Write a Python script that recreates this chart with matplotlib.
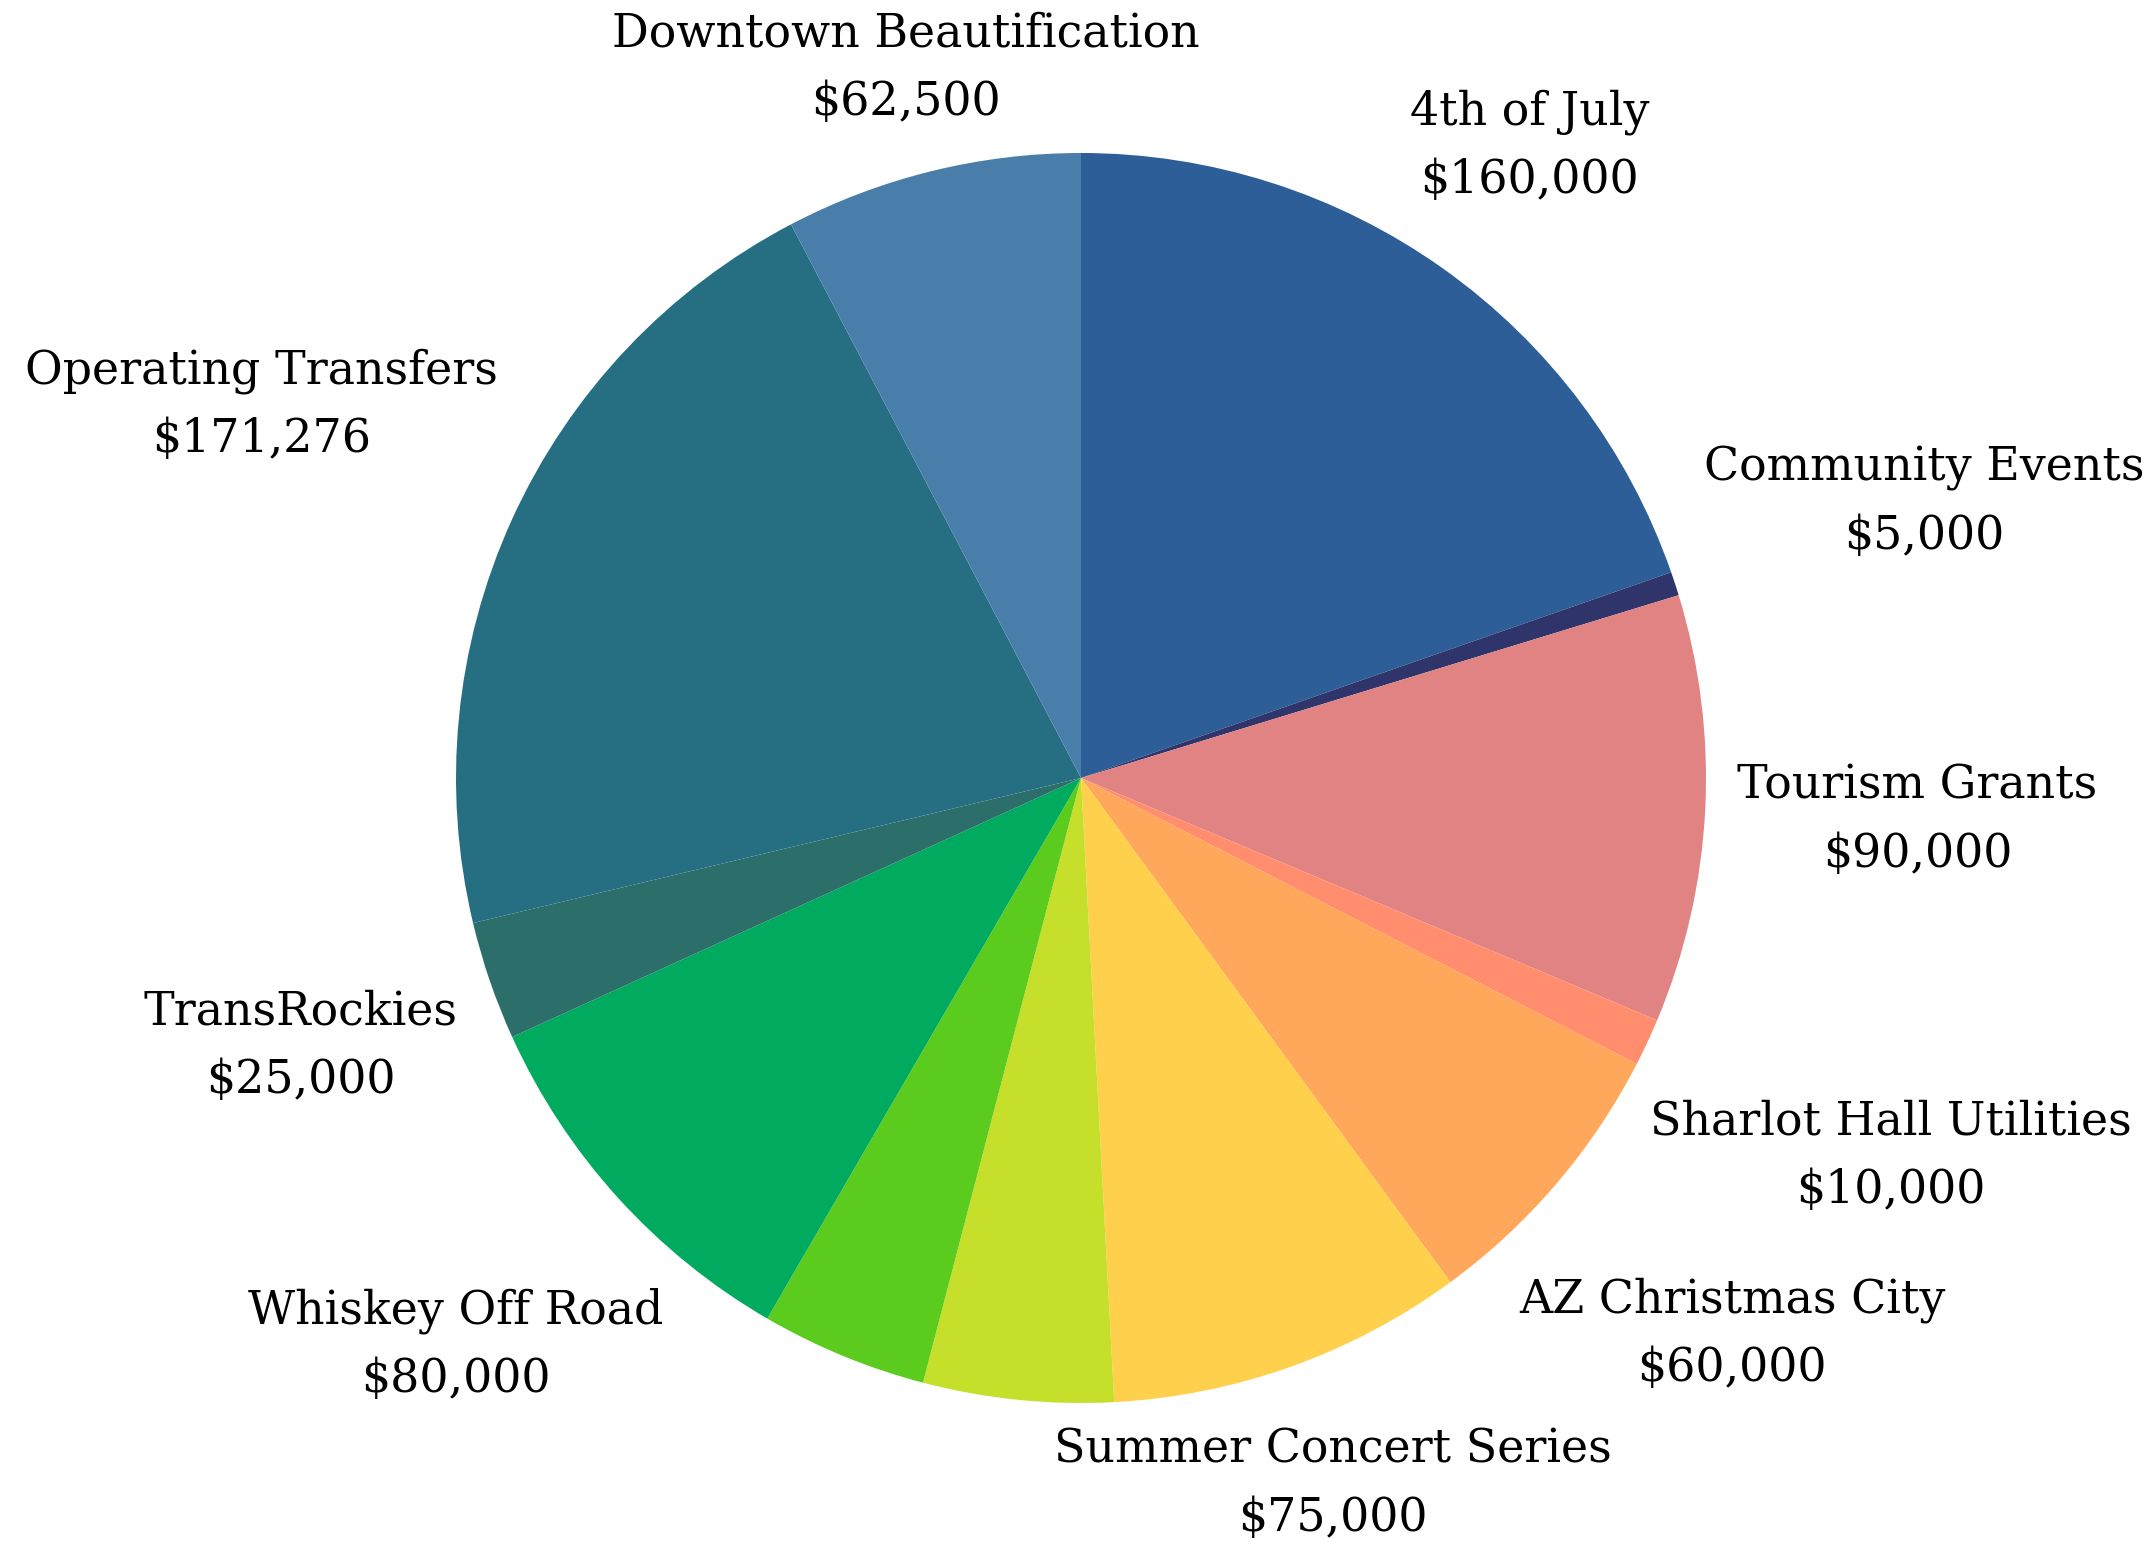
import numpy as np
import matplotlib
matplotlib.use("Agg")
import matplotlib.pyplot as plt


# slice data, clockwise from 12 o'clock
categories = [
    "4th of July", "Community Events", "Tourism Grants", "Sharlot Hall Utilities",
    "AZ Christmas City", "Summer Concert Series", "", "",
    "Whiskey Off Road", "TransRockies", "Operating Transfers", "Downtown Beautification",
]
amounts = [160000, 5000, 90000, 10000, 60000, 75000, 40000, 35000, 80000, 25000, 171276, 62500]
colors = [
    "#2E5E97", "#2F356B", "#E18383", "#FF8D6E", "#FFA75A", "#FFD04C",
    "#C5DF2A", "#5BCB1E", "#00AA5E", "#2C6E69", "#266E82", "#4A7EAA",
]
# how far out each label sits (in pie radii)
label_dist = [1.24, 1.42, 1.34, 1.43, 1.37, 1.2, 1.3, 1.3, 1.35, 1.32, 1.44, 1.17]

plt.rcParams["font.family"] = ["DejaVu Serif"]

fig = plt.figure(figsize=(21.55, 15.44), dpi=100)
ax = fig.add_axes([0, 0, 1, 1])
wedges, _ = ax.pie(amounts, colors=colors, startangle=90, counterclock=False,
                   radius=1.0, wedgeprops=dict(linewidth=0))

for w, name, val, d in zip(wedges, categories, amounts, label_dist):
    if not name:
        continue
    mid = np.deg2rad((w.theta1 + w.theta2) / 2)
    ax.text(d * np.cos(mid), d * np.sin(mid), f"{name}\n${val:,}",
            ha="center", va="center", fontsize=33, linespacing=1.65, color="black")

ax.set_xlim(-1.7296, 1.7184)
ax.set_ylim(-1.2256, 1.2448)
ax.set_aspect("equal")
ax.axis(False)
fig.savefig("out.png", dpi=100, facecolor="white")
